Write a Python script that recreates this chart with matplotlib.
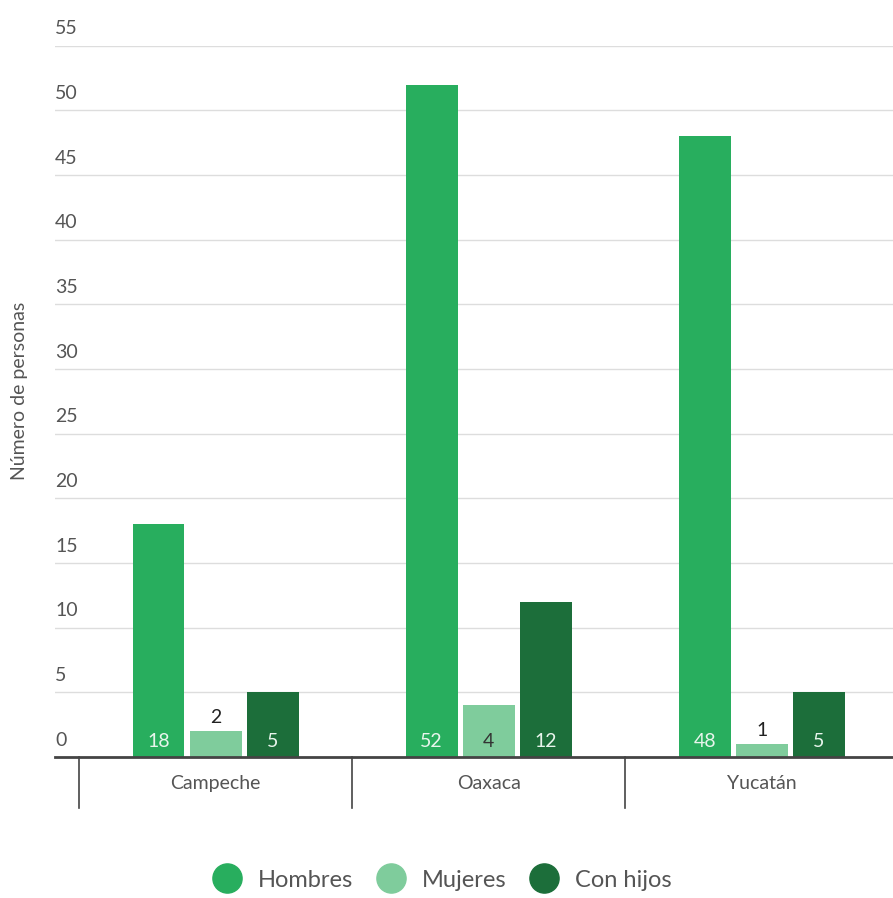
import numpy as np
import matplotlib
matplotlib.use('Agg')
import matplotlib.pyplot as plt
from matplotlib.lines import Line2D
import matplotlib.transforms as mtransforms

plt.rcParams['font.family'] = ['Lato', 'DejaVu Sans']

# datos
estados = ['Campeche', 'Oaxaca', 'Yucatán']
series = ['Hombres', 'Mujeres', 'Con hijos']
hombres = [18, 52, 48]
mujeres = [2, 4, 1]
con_hijos = [5, 12, 5]
yticks = [0, 5, 10, 15, 20, 25, 30, 35, 40, 45, 50, 55]

colores = ['#28ae5e', '#7fcc9c', '#1c6e3a']
color_txt = ['#e8f5ec', '#333333', '#e8f5ec']
texto = '#555555'

fig = plt.figure(figsize=(8.93, 8.98), dpi=100)
ax = fig.add_axes([0.0616, 0.157, 0.9384, 0.792])

x = np.arange(len(estados))
ancho = 0.19
desp = [-0.209, 0.0, 0.209]

for i, vals in enumerate([hombres, mujeres, con_hijos]):
    barras = ax.bar(x + desp[i], vals, width=ancho, color=colores[i], zorder=3)
    for b, v in zip(barras, vals):
        cx = b.get_x() + b.get_width() / 2
        if v >= 3:
            ax.annotate(str(v), (cx, 0), xytext=(0, 5), textcoords='offset points',
                        ha='center', va='bottom', fontsize=14, color=color_txt[i], zorder=4)
        else:
            ax.annotate(str(v), (cx, v), xytext=(0, 4), textcoords='offset points',
                        ha='center', va='bottom', fontsize=14, color='#222222', zorder=4)

ax.set_xlim(-0.588, 2.48)
ax.set_ylim(0, 55)

# rejilla
for t in yticks[1:]:
    ax.axhline(t, color='#dddddd', lw=1, zorder=1)
ax.axhline(0, color='#444444', lw=2, zorder=5, clip_on=False)

# etiquetas del eje y sobre las lineas
tr = mtransforms.blended_transform_factory(ax.transAxes, ax.transData)
for t in yticks:
    ax.annotate(str(t), (0, t), xycoords=tr, xytext=(0, 6), textcoords='offset points',
                ha='left', va='bottom', fontsize=14, color=texto)

ax.set_yticks([])
ax.set_xticks([])
for s in ax.spines.values():
    s.set_visible(False)

# separadores de categorias
trx = mtransforms.blended_transform_factory(ax.transData, ax.transAxes)
for s in [-0.5, 0.5, 1.5, 2.5]:
    ax.plot([s, s], [0, -0.072], transform=trx, color='#444444', lw=1.2, clip_on=False)
for xi, nombre in zip(x, estados):
    ax.text(xi, -0.037, nombre, transform=trx, ha='center', va='center',
            fontsize=14, color=texto)

fig.text(0.022, 0.565, 'Número de personas', rotation=90, ha='center', va='center',
         fontsize=14, color=texto)

handles = [Line2D([], [], marker='o', ls='', markersize=21, color=c) for c in colores]
fig.legend(handles, series, loc='center', bbox_to_anchor=(0.49, 0.02), ncol=3,
           frameon=False, fontsize=17, labelcolor=texto, handletextpad=0.3,
           columnspacing=0.6)

fig.savefig('out.png', dpi=100)
